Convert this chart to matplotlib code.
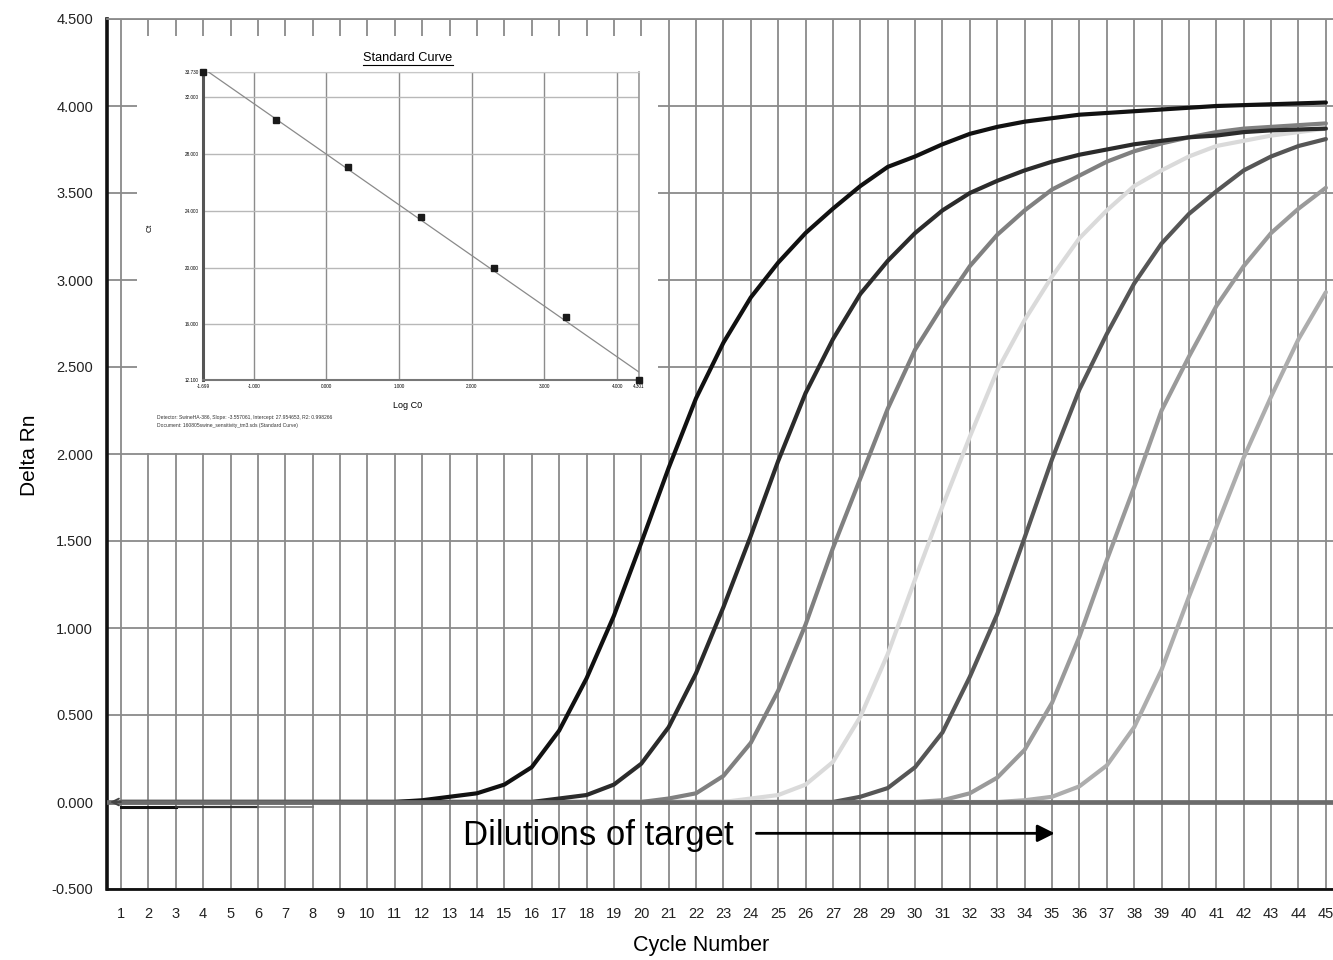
import matplotlib
matplotlib.use('Agg')
import matplotlib.pyplot as plt
from matplotlib.lines import Line2D

plt.rcParams['font.family'] = ['Liberation Sans', 'DejaVu Sans']

# amplification data, one Delta Rn value per cycle
cycles = list(range(1, 46))

curve_a = [0.0] * 11 + [0.01, 0.03, 0.05, 0.10, 0.20, 0.41, 0.71, 1.07, 1.49, 1.92,
                        2.32, 2.64, 2.90, 3.10, 3.27, 3.41, 3.54, 3.65, 3.71, 3.78,
                        3.84, 3.88, 3.91, 3.93, 3.95, 3.96, 3.97, 3.98, 3.99, 4.00,
                        4.005, 4.01, 4.015, 4.02]
curve_b = [0.0] * 16 + [0.02, 0.04, 0.10, 0.22, 0.43, 0.74, 1.12, 1.53, 1.96, 2.35,
                        2.66, 2.92, 3.11, 3.27, 3.40, 3.50, 3.57, 3.63, 3.68, 3.72,
                        3.75, 3.78, 3.80, 3.82, 3.83, 3.85, 3.86, 3.865, 3.87]
curve_c = [0.0] * 20 + [0.02, 0.05, 0.15, 0.34, 0.64, 1.02, 1.46, 1.86, 2.26, 2.60,
                        2.85, 3.08, 3.26, 3.40, 3.52, 3.60, 3.68, 3.74, 3.785, 3.82,
                        3.85, 3.87, 3.88, 3.89, 3.90]
curve_d = [0.0] * 23 + [0.02, 0.04, 0.10, 0.23, 0.49, 0.85, 1.28, 1.70, 2.10, 2.48,
                        2.77, 3.02, 3.24, 3.40, 3.54, 3.63, 3.71, 3.77, 3.80, 3.83,
                        3.85, 3.87]
curve_e = [0.0] * 27 + [0.03, 0.08, 0.20, 0.40, 0.72, 1.08, 1.52, 1.97, 2.37, 2.69,
                        2.98, 3.21, 3.38, 3.51, 3.63, 3.71, 3.77, 3.81]
curve_f = [0.0] * 30 + [0.01, 0.05, 0.14, 0.30, 0.57, 0.95, 1.39, 1.81, 2.25, 2.56,
                        2.85, 3.08, 3.27, 3.41, 3.53]
curve_g = [0.0] * 33 + [0.01, 0.03, 0.09, 0.21, 0.43, 0.76, 1.18, 1.58, 1.98, 2.33,
                        2.66, 2.93]

curves = [curve_g, curve_f, curve_e, curve_d, curve_c, curve_b, curve_a]
curve_colors = ['#adadad', '#9a9a9a', '#565656', '#dadada', '#808080', '#2b2b2b', '#111111']

# short baseline marks just under zero
mark_x = [[1, 3], [3, 6], [6, 8]]
mark_y = -0.027
mark_colors = ['#111111', '#333333', '#777777']
mark_widths = [2.2, 1.6, 1.2]

y_ticks = [-0.5, 0.0, 0.5, 1.0, 1.5, 2.0, 2.5, 3.0, 3.5, 4.0, 4.5]

# standard curve inset
log_c0 = [-1.699, -0.699, 0.301, 1.301, 2.301, 3.301, 4.301]
ct_vals = [33.73, 30.36, 27.09, 23.54, 19.95, 16.51, 12.10]
slope = -3.557061
intercept = 27.954653
inset_xticks = [-1.699, -1.0, 0.0, 1.0, 2.0, 3.0, 4.0, 4.301]
inset_yticks = [12.10, 16.0, 20.0, 24.0, 28.0, 32.0, 33.73]

W, H = 1333, 960
fig = plt.figure(figsize=(W / 100, H / 100), dpi=100)

ax = fig.add_axes([107 / W, 1 - 889 / H, (W - 107) / W, 870 / H])
ax.set_xlim(0.49, 45.26)
ax.set_ylim(-0.5, 4.5)
ax.set_xticks(cycles)
ax.set_xticklabels([str(c) for c in cycles], fontsize=10.5)
ax.set_yticks(y_ticks)
ax.set_yticklabels(['%.3f' % v for v in y_ticks], fontsize=10.5)
ax.tick_params(axis='x', length=0, pad=13, colors='#222222')
ax.tick_params(axis='y', length=0, pad=10, colors='#222222')
ax.grid(True, color='#8a8a8a', lw=1.3)
ax.set_axisbelow(True)
ax.spines['left'].set_linewidth(2.6)
ax.spines['left'].set_color('#111111')
ax.spines['bottom'].set_linewidth(2.0)
ax.spines['bottom'].set_color('#111111')
ax.spines['top'].set_color('#8a8a8a')
ax.spines['top'].set_linewidth(1.3)
ax.spines['right'].set_visible(False)

for vals, col in zip(curves, curve_colors):
    ax.plot(cycles, vals, color=col, lw=3.0, zorder=3, solid_capstyle='round')

ax.axhline(0, color='#6b6b6b', lw=3.4, zorder=4)
ax.annotate('', xy=(0.5, 0), xytext=(1.1, 0),
            arrowprops=dict(arrowstyle='->', color='#444444', lw=1.4, mutation_scale=12),
            zorder=5)
for xs, col, w in zip(mark_x, mark_colors, mark_widths):
    ax.plot(xs, [mark_y, mark_y], color=col, lw=w, zorder=4)

ax.text(13.5, -0.19, 'Dilutions of target', fontsize=25, va='center', ha='left', zorder=6)
ax.annotate('', xy=(35.2, -0.18), xytext=(24.1, -0.18),
            arrowprops=dict(arrowstyle='-|>', color='black', lw=2.0, mutation_scale=26),
            zorder=6)

fig.text(30 / W, 1 - 455 / H, 'Delta Rn', rotation=90, ha='center', va='center', fontsize=15)
fig.text(701 / W, 1 - 945 / H, 'Cycle Number', ha='center', va='center', fontsize=15.5)

# white panel holding the standard curve
bg = fig.add_axes([137 / W, 1 - 453 / H, 521 / W, 417 / H])
bg.set_facecolor('white')
bg.set_xticks([])
bg.set_yticks([])
for s in bg.spines.values():
    s.set_visible(False)

ins = fig.add_axes([203 / W, 1 - 380 / H, 436 / W, 308 / H])
ins.set_xlim(-1.699, 4.301)
ins.set_ylim(12.10, 33.73)
ins.set_xticks(inset_xticks)
ins.set_xticklabels(['%.3f' % v for v in inset_xticks], fontsize=3.3)
ins.set_yticks(inset_yticks)
ins.set_yticklabels(['%.3f' % v for v in inset_yticks], fontsize=3.3)
ins.tick_params(length=0, pad=3)
ins.xaxis.grid(True, color='#8c8c8c', lw=1.0)
ins.yaxis.grid(True, color='#b8b8b8', lw=1.0)
ins.set_axisbelow(True)
ins.spines['left'].set_color('#555555')
ins.spines['left'].set_linewidth(2.2)
ins.spines['bottom'].set_color('#777777')
ins.spines['bottom'].set_linewidth(1.5)
ins.spines['top'].set_color('#c8c8c8')
ins.spines['right'].set_color('#999999')
ins.spines['right'].set_linewidth(1.2)

fit_x = [log_c0[0], log_c0[-1]]
fit_y = [intercept + slope * v for v in fit_x]
ins.plot(fit_x, fit_y, color='#8a8a8a', lw=0.9, zorder=3)
ins.plot(log_c0, ct_vals, 's', color='#1a1a1a', ms=5, zorder=4, clip_on=False)

title = fig.text(408 / W, 1 - 58 / H, 'Standard Curve', ha='center', va='center', fontsize=9.2)
fig.text(150 / W, 1 - 228 / H, 'Ct', rotation=90, ha='center', va='center', fontsize=6)
fig.text(408 / W, 1 - 406 / H, 'Log C0', ha='center', va='center', fontsize=6.5)
fig.text(157 / W, 1 - 418 / H,
         'Detector: SwineHA-386, Slope: -3.557061, Intercept: 27.954653, R2: 0.998266',
         ha='left', va='center', fontsize=3.6, color='#333333')
fig.text(157 / W, 1 - 426 / H,
         'Document: 160805swine_sensitivity_tm3.sds (Standard Curve)',
         ha='left', va='center', fontsize=3.6, color='#333333')

# underline the inset title
fig.canvas.draw()
bb = title.get_window_extent().transformed(fig.transFigure.inverted())
fig.add_artist(Line2D([bb.x0, bb.x1], [bb.y0 - 0.001, bb.y0 - 0.001],
                      transform=fig.transFigure, color='black', lw=0.8))

fig.savefig('out.png', dpi=100)
